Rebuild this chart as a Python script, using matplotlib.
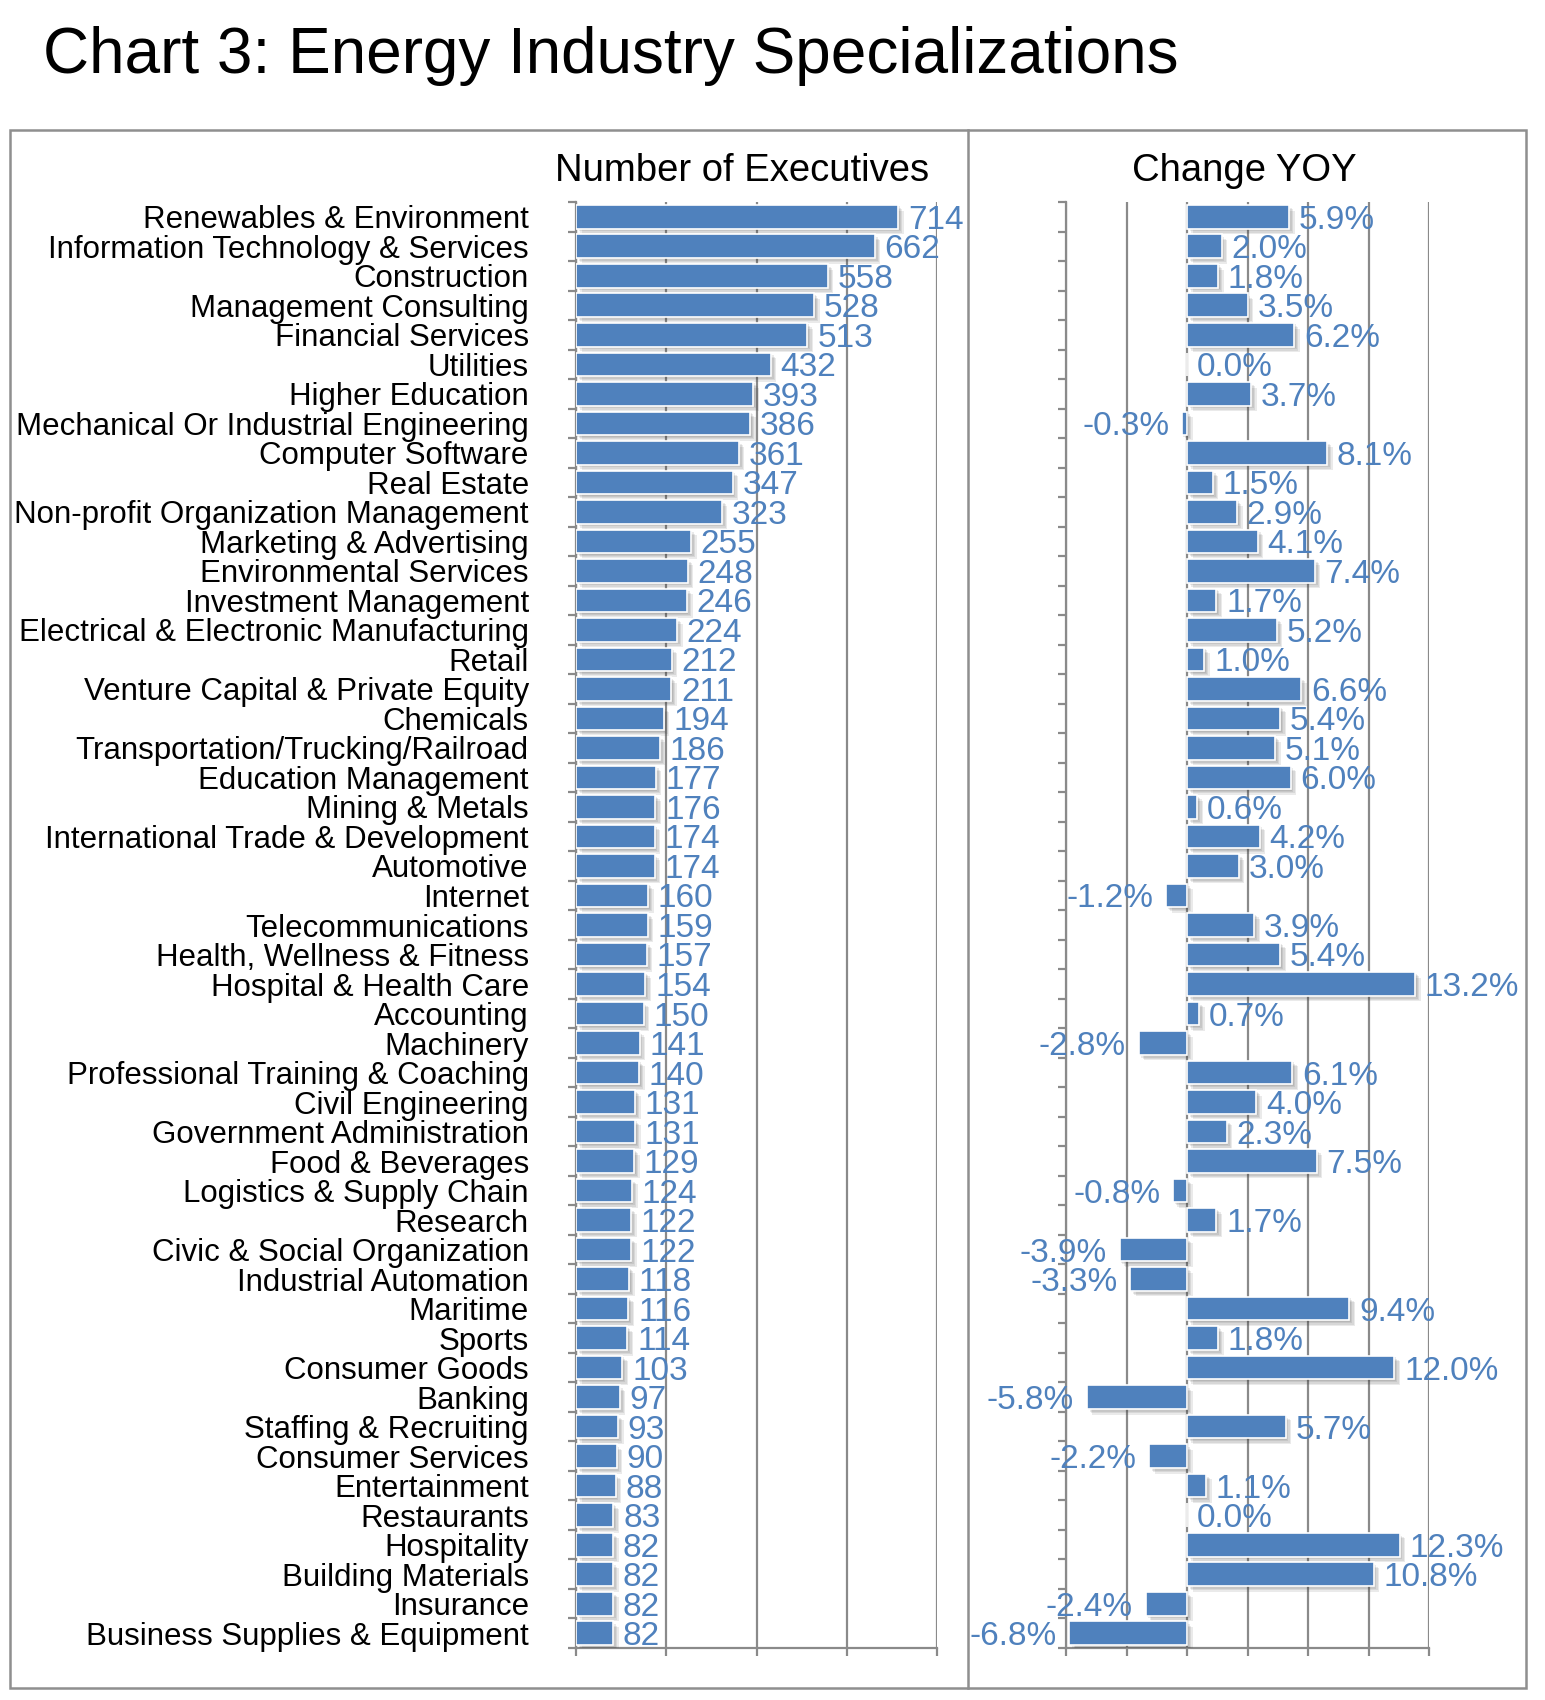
import matplotlib
matplotlib.use('Agg')

import matplotlib.pyplot as plt
import matplotlib.patheffects as pe
from matplotlib.patches import Rectangle
from matplotlib.lines import Line2D

plt.rcParams['font.family'] = ['Liberation Sans', 'DejaVu Sans']

# ------------------------------------------------------------
# DATA
# ------------------------------------------------------------
industries = [
    "Renewables & Environment", "Information Technology & Services", "Construction",
    "Management Consulting", "Financial Services", "Utilities", "Higher Education",
    "Mechanical Or Industrial Engineering", "Computer Software", "Real Estate",
    "Non-profit Organization Management", "Marketing & Advertising",
    "Environmental Services", "Investment Management",
    "Electrical & Electronic Manufacturing", "Retail", "Venture Capital & Private Equity",
    "Chemicals", "Transportation/Trucking/Railroad", "Education Management",
    "Mining & Metals", "International Trade & Development", "Automotive", "Internet",
    "Telecommunications", "Health, Wellness & Fitness", "Hospital & Health Care",
    "Accounting", "Machinery", "Professional Training & Coaching", "Civil Engineering",
    "Government Administration", "Food & Beverages", "Logistics & Supply Chain",
    "Research", "Civic & Social Organization", "Industrial Automation", "Maritime",
    "Sports", "Consumer Goods", "Banking", "Staffing & Recruiting", "Consumer Services",
    "Entertainment", "Restaurants", "Hospitality", "Building Materials", "Insurance",
    "Business Supplies & Equipment",
]

executives = [714, 662, 558, 528, 513, 432, 393, 386, 361, 347, 323, 255, 248, 246,
              224, 212, 211, 194, 186, 177, 176, 174, 174, 160, 159, 157, 154, 150,
              141, 140, 131, 131, 129, 124, 122, 122, 118, 116, 114, 103, 97, 93,
              90, 88, 83, 82, 82, 82, 82]

change_yoy = [5.9, 2.0, 1.8, 3.5, 6.2, 0.0, 3.7, -0.3, 8.1, 1.5, 2.9, 4.1, 7.4, 1.7,
              5.2, 1.0, 6.6, 5.4, 5.1, 6.0, 0.6, 4.2, 3.0, -1.2, 3.9, 5.4, 13.2, 0.7,
              -2.8, 6.1, 4.0, 2.3, 7.5, -0.8, 1.7, -3.9, -3.3, 9.4, 1.8, 12.0, -5.8,
              5.7, -2.2, 1.1, 0.0, 12.3, 10.8, -2.4, -6.8]

exec_ticks = [0, 200, 400, 600, 800]
yoy_ticks = [-7, -3.5, 0, 3.5, 7, 10.5, 14]

# ------------------------------------------------------------
# STYLE
# ------------------------------------------------------------
BLUE = '#4F81BD'
GRID = '#8a8a8a'
W, H = 1545, 1700

fig = plt.figure(figsize=(W / 100, H / 100), dpi=100)

def px(x0, y0, x1, y1):
    return [x0 / W, 1 - y1 / H, (x1 - x0) / W, (y1 - y0) / H]

ax1 = fig.add_axes(px(576, 202, 937, 1648))
ax2 = fig.add_axes(px(1066, 202, 1429, 1648), sharey=ax1)

# soft drop shadow, faked with a few stacked offsets
shadow = [pe.SimplePatchShadow(offset=(o, -o), shadow_rgbFace='#333333', alpha=0.10)
          for o in (1, 2, 3, 4)] + [pe.Normal()]

def style_axis(ax, ticks):
    ax.set_xlim(ticks[0], ticks[-1])
    ax.set_xticks(ticks)
    ax.set_xticklabels([])
    ax.grid(axis='x', color=GRID, lw=1.6, zorder=0)
    ax.set_axisbelow(True)
    for s in ['top', 'right']:
        ax.spines[s].set_visible(False)
    for s in ['left', 'bottom']:
        ax.spines[s].set_color(GRID)
        ax.spines[s].set_linewidth(1.6)
    ax.tick_params(axis='x', length=6, width=1.6, color=GRID)
    ax.set_yticks([i - 0.5 for i in range(len(industries) + 1)], minor=True)
    ax.tick_params(axis='y', which='minor', length=6, width=1.6, color=GRID)
    ax.tick_params(axis='y', which='major', length=0)

def label(ax, x, y, txt, neg=False):
    ax.annotate(txt, (x, y), xytext=(-9 if neg else 7, -2.5), textcoords='offset points',
                ha='right' if neg else 'left', va='center', color=BLUE,
                fontsize=24, zorder=5)

# left panel: number of executives
y = list(range(len(industries)))
bars1 = ax1.barh(y, executives, height=0.8, color=BLUE, edgecolor='white', lw=1.2, zorder=3)
for b in bars1:
    b.set_path_effects(shadow)
style_axis(ax1, exec_ticks)
ax1.set_ylim(len(industries) - 0.5, -0.5)
ax1.set_yticks(y)
ax1.set_yticklabels(industries, fontsize=22.5)
ax1.tick_params(axis='y', which='major', pad=34)

for yi, v in zip(y, executives):
    label(ax1, v, yi, f'{v}')

# right panel: change yoy
bars2 = ax2.barh(y, change_yoy, height=0.8, color=BLUE, edgecolor='white', lw=1.2, zorder=3)
for b in bars2:
    b.set_path_effects(shadow)
style_axis(ax2, yoy_ticks)
ax2.tick_params(axis='y', which='major', labelleft=False)

for yi, v in zip(y, change_yoy):
    label(ax2, v, yi, f'{v:.1f}%', neg=v < 0)

# panel titles
fig.text(742 / W, 1 - 171 / H, 'Number of Executives', ha='center', va='center', fontsize=27.5)
fig.text(1244 / W, 1 - 171 / H, 'Change YOY', ha='center', va='center', fontsize=27.5)

# main title
fig.text(43 / W, 1 - 56 / H, 'Chart 3: Energy Industry Specializations',
         ha='left', va='center', fontsize=46)

# outer frame and divider
fig.add_artist(Rectangle((10 / W, 1 - 1688 / H), 1516 / W, 1558 / H, transform=fig.transFigure,
                         fill=False, ec='#8f8f8f', lw=1.8))
fig.add_artist(Line2D([968 / W, 968 / W], [1 - 130 / H, 1 - 1688 / H], transform=fig.transFigure,
                      color='#8f8f8f', lw=1.8))

fig.savefig('out.png', dpi=100)
